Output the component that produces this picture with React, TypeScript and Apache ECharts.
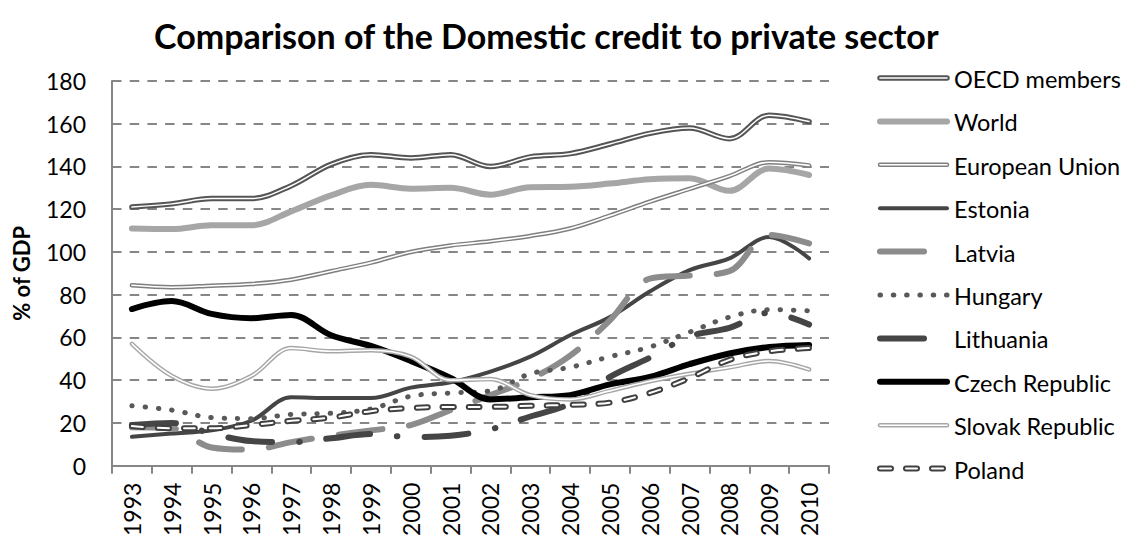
import React, { useEffect, useRef } from "react";
import * as echarts from "echarts";

const years = ["1993","1994","1995","1996","1997","1998","1999","2000","2001","2002","2003","2004","2005","2006","2007","2008","2009","2010"];
const yTicks = { min: 0, max: 180, interval: 20 };

const oecd = [121, 122.5, 125, 125, 131, 141, 145.5, 144, 145.5, 140, 144.5, 146, 150.5, 155.5, 158, 153, 164, 161];
const world = [111, 110.7, 112.5, 112.5, 119, 126.5, 131.4, 129.6, 130, 126.8, 130.3, 130.5, 132, 134, 134.5, 128.6, 139, 136];
const eu = [84.4, 83.5, 84.2, 85, 87, 91, 95, 100, 103, 105, 107.5, 111, 117, 123.5, 129.5, 135.5, 142, 140.5];
const estonia = [13.5, 15, 16.5, 21, 32, 31.6, 31.6, 36.5, 39, 44, 51, 61, 69.5, 81.5, 91.5, 97, 107, 97];
const latvia = [18, 17.5, 8.5, 7.5, 11, 14, 16.5, 19, 26, 33, 40.5, 51.5, 68, 87.5, 89, 91, 108, 104];
const hungary = [28, 26, 22.5, 22, 24, 24.5, 26.5, 32.5, 34, 35, 43, 46, 51, 55.5, 62.5, 69.5, 73, 72.5];
const lithuania = [19, 20, 15, 11.5, 11, 12.8, 14.8, 13.4, 14, 17, 23, 29, 41.5, 50.5, 60.5, 64.5, 71.5, 66];
const czech = [73.3, 77, 71, 69, 70.5, 61, 56, 49, 41, 31, 32, 33, 38, 41.5, 47.5, 52.5, 55.5, 56.5];
const slovak = [57, 42, 36, 42, 55, 53.5, 54, 51, 40, 40.5, 33, 31, 35, 39.5, 43, 46, 49, 45];
const poland = [18.5, 17.5, 17.5, 19, 21, 22.5, 25.5, 27, 27.5, 27.5, 28, 28.5, 29.5, 34, 41, 49.5, 53.5, 55];

const seriesNames = ["OECD members", "World", "European Union", "Estonia", "Latvia", "Hungary", "Lithuania", "Czech Republic", "Slovak Republic", "Poland"];
const seriesData = [oecd, world, eu, estonia, latvia, hungary, lithuania, czech, slovak, poland];

type Sty = { color: string; width: number; dash?: number[]; inner?: number };
const styles: Sty[] = [
  { color: "#555555", width: 5.5, inner: 1.5 },
  { color: "#a6a6a6", width: 6 },
  { color: "#7f7f7f", width: 4.5, inner: 1.6 },
  { color: "#454545", width: 4 },
  { color: "#8c8c8c", width: 6, dash: [44, 27] },
  { color: "#595959", width: 5, dash: [0.5, 12.8] },
  { color: "#454545", width: 6, dash: [44, 27, 0.5, 27] },
  { color: "#000000", width: 6 },
  { color: "#a6a6a6", width: 4.5, inner: 1.6 },
  { color: "#404040", width: 6, dash: [11, 15], inner: 2 },
];

const FONT = "Lato, 'Open Sans', sans-serif";

export default function App() {
  const ref = useRef<HTMLDivElement>(null);
  useEffect(() => {
    if (!ref.current) return;
    const chart = echarts.init(ref.current, null, { renderer: "svg" });
    const series: any[] = [];
    seriesNames.forEach((name, i) => {
      const s = styles[i];
      series.push({
        name,
        type: "line",
        data: seriesData[i],
        smooth: 0.35,
        symbol: "none",
        lineStyle: { color: s.color, width: s.width, type: s.dash ? s.dash : "solid", cap: "round", join: "round" },
        z: 2,
      });
      if (s.inner) {
        series.push({
          name: name + " ",
          type: "line",
          data: seriesData[i],
          smooth: 0.35,
          symbol: "none",
          lineStyle: { color: "#ffffff", width: s.inner, type: s.dash ? s.dash : "solid", cap: "round", join: "round" },
          z: 2,
        });
      }
    });

    const graphic: any[] = [];
    const lx1 = 880, lx2 = 947, ly0 = 78, lstep = 43.4;
    seriesNames.forEach((name, i) => {
      const s = styles[i];
      const y = ly0 + lstep * i;
      graphic.push({
        type: "line",
        shape: { x1: lx1, y1: y, x2: lx2, y2: y },
        style: { stroke: s.color, lineWidth: s.width, lineDash: s.dash || null, lineCap: "round" },
        z: 10,
      });
      if (s.inner) {
        graphic.push({
          type: "line",
          shape: { x1: lx1, y1: y, x2: lx2, y2: y },
          style: { stroke: "#ffffff", lineWidth: s.inner, lineDash: s.dash || null, lineCap: "round" },
          z: 11,
        });
      }
      graphic.push({
        type: "text",
        x: 954,
        y: y + 1,
        style: { text: name, fill: "#000", fontSize: 23.5, fontFamily: FONT, verticalAlign: "middle", align: "left" },
        z: 12,
      });
    });

    chart.setOption({
      animation: false,
      backgroundColor: "#ffffff",
      title: {
        text: "Comparison of the Domestic credit to private sector",
        left: 149,
        top: 13,
        textStyle: { fontSize: 34, fontWeight: "bold", fontFamily: FONT, color: "#000" },
      },
      grid: { left: 112, right: 303, top: 81, bottom: 69, containLabel: false },
      xAxis: {
        type: "category",
        data: years,
        boundaryGap: true,
        axisLine: { lineStyle: { color: "#868686", width: 2 } },
        axisTick: { show: true, length: 8, lineStyle: { color: "#868686", width: 2 } },
        axisLabel: { rotate: 90, margin: 17, fontSize: 23, fontFamily: FONT, color: "#000", interval: 0 },
      },
      yAxis: {
        type: "value",
        min: yTicks.min,
        max: yTicks.max,
        interval: yTicks.interval,
        name: "% of GDP",
        nameLocation: "middle",
        nameGap: 80,
        nameRotate: 90,
        nameTextStyle: { fontSize: 22, fontWeight: "bold", fontFamily: FONT, color: "#000" },
        axisLine: { show: true, lineStyle: { color: "#868686", width: 2 } },
        axisTick: { show: false },
        axisLabel: { margin: 26, fontSize: 23, fontFamily: FONT, color: "#000" },
        splitLine: { show: true, lineStyle: { color: "#868686", width: 2, type: [9.5, 8.2] } },
      },
      series,
      graphic,
    });
    return () => chart.dispose();
  }, []);
  return <div ref={ref} style={{ position: "fixed", left: 0, top: 0, width: 1132, height: 539 }} />;
}
